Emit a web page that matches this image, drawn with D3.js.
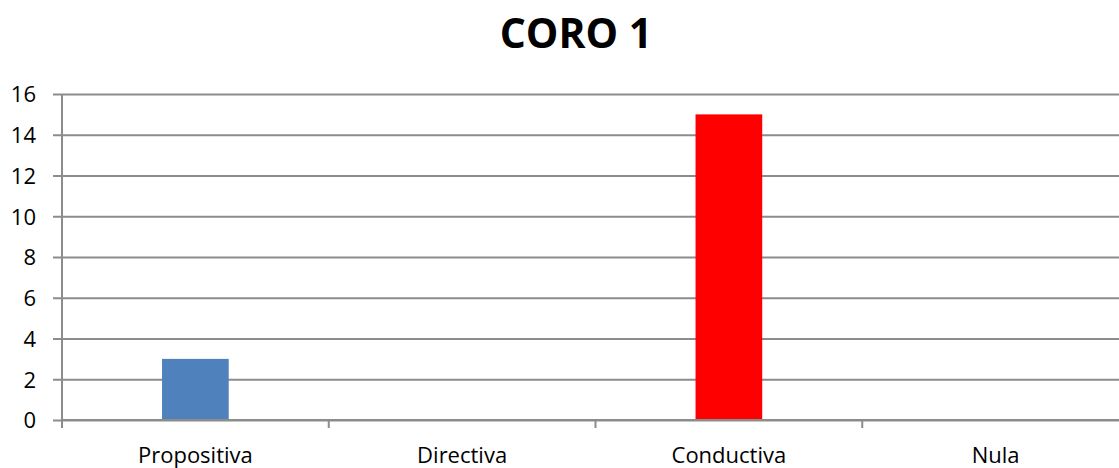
<!DOCTYPE html>
<html>
<head>
<meta charset="utf-8">
<script src="https://cdn.jsdelivr.net/npm/d3@7"></script>
<style>
  body { margin: 0; background: #fff; }
  text { font-family: "Open Sans", "Noto Sans", sans-serif; fill: #000; }
</style>
</head>
<body>
<div class="canvas"></div>
<script>
// data
const categories = ["Propositiva", "Directiva", "Conductiva", "Nula"];
const values = [3, 0, 15, 0];
const barColors = ["#4F81BD", "#4F81BD", "#FF0000", "#4F81BD"];
const yTicks = [0, 2, 4, 6, 8, 10, 12, 14, 16];

const w = 1119;
const h = 468;
const margin = { top: 94, right: -10, bottom: 48, left: 62 };
const graphWidth = w - margin.left - margin.right;
const graphHeight = h - margin.top - margin.bottom;

const svg = d3.select(".canvas").append("svg").attr("width", w).attr("height", h);

// title
svg.append("text")
  .attr("x", 576)
  .attr("y", 48)
  .attr("text-anchor", "middle")
  .style("font-size", "41px")
  .style("font-weight", "bold")
  .text("CORO 1");

const graph = svg.append("g")
  .attr("transform", `translate(${margin.left}, ${margin.top})`);

const x = d3.scaleBand().domain(categories).range([0, graphWidth]).paddingInner(0.75).paddingOuter(0.375);
const xTick = d3.scaleLinear().domain([0, categories.length]).range([0, graphWidth]);
const y = d3.scaleLinear().domain([0, 16]).range([graphHeight, 0]);

// gridlines + y axis
const yAxis = d3.axisLeft(y).tickValues(yTicks).tickSize(-graphWidth - 9).tickPadding(17);
const yg = graph.append("g").attr("transform", "translate(-9,0)").call(yAxis);
yg.select(".domain").remove();
yg.selectAll(".tick line").attr("stroke", "#8c8c8c").attr("stroke-width", 2).attr("transform", "translate(9,0)").attr("x1", -9);
yg.selectAll(".tick text").style("font-size", "22px").attr("dy", "0.36em");

// bars
graph.selectAll("rect")
  .data(values)
  .enter()
  .append("rect")
  .attr("x", (d, i) => x(categories[i]))
  .attr("width", x.bandwidth())
  .attr("y", d => y(d))
  .attr("height", d => graphHeight - y(d))
  .attr("fill", (d, i) => barColors[i]);

// y axis line
graph.append("line")
  .attr("x1", 0).attr("x2", 0)
  .attr("y1", 0).attr("y2", graphHeight + 8)
  .attr("stroke", "#8c8c8c").attr("stroke-width", 2);

// x axis line and category ticks
graph.append("line")
  .attr("x1", 0).attr("x2", graphWidth)
  .attr("y1", graphHeight).attr("y2", graphHeight)
  .attr("stroke", "#8c8c8c").attr("stroke-width", 2);
graph.selectAll(".cat-tick")
  .data(d3.range(categories.length + 1))
  .enter()
  .append("line")
  .attr("class", "cat-tick")
  .attr("x1", d => xTick(d)).attr("x2", d => xTick(d))
  .attr("y1", graphHeight).attr("y2", graphHeight + 8)
  .attr("stroke", "#8c8c8c").attr("stroke-width", 2);

// category labels
graph.selectAll(".cat-label")
  .data(categories)
  .enter()
  .append("text")
  .attr("class", "cat-label")
  .attr("x", d => x(d) + x.bandwidth() / 2)
  .attr("y", graphHeight + 43)
  .attr("text-anchor", "middle")
  .style("font-size", "22px")
  .text(d => d);
</script>
</body>
</html>
